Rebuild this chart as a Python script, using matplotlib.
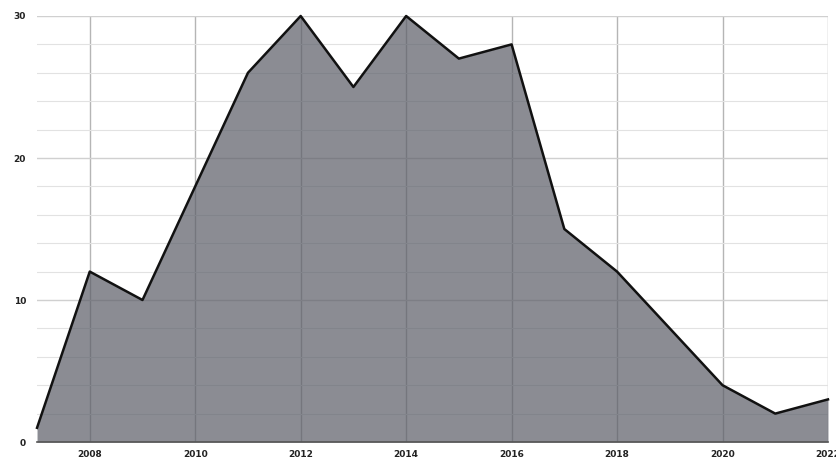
import matplotlib
matplotlib.use("Agg")
import matplotlib.pyplot as plt
from matplotlib.ticker import MultipleLocator

years = [2007, 2008, 2009, 2010, 2011, 2012, 2013, 2014, 2015, 2016, 2017, 2018, 2019, 2020, 2021, 2022]
values = [1, 12, 10, 18, 26, 30, 25, 30, 27, 28, 15, 12, 8, 4, 2, 3]
x_ticks = [2008, 2010, 2012, 2014, 2016, 2018, 2020, 2022]
y_ticks = [0, 10, 20, 30]

fig = plt.figure(figsize=(8.36, 4.61), dpi=100)
ax = fig.add_axes([0.0443, 0.0412, 0.9461, 0.9241])

ax.set_xlim(2007, 2022)
ax.set_ylim(0, 30)

ax.set_xticks(x_ticks)
ax.set_yticks(y_ticks)
ax.yaxis.set_minor_locator(MultipleLocator(2))
ax.grid(which="major", axis="x", color="#b5b5b5", linewidth=1.0, zorder=0)
ax.grid(which="major", axis="y", color="#d0d0d0", linewidth=1.0, zorder=0)
ax.grid(which="minor", axis="y", color="#e2e2e2", linewidth=0.8, zorder=0)
ax.set_axisbelow(True)

ax.fill_between(years, values, 0, color="#5a5c66", alpha=0.7, linewidth=0, zorder=2)
ax.plot(years, values, color="#111111", linewidth=1.8, zorder=3, clip_on=False)

for s in ["top", "right", "left"]:
    ax.spines[s].set_visible(False)
ax.spines["bottom"].set_color("#555555")
ax.spines["bottom"].set_linewidth(1.2)

ax.tick_params(axis="both", which="both", length=0, labelsize=6.5, colors="#222222")
ax.tick_params(axis="x", pad=6)
ax.tick_params(axis="y", pad=8)
for lab in ax.get_xticklabels() + ax.get_yticklabels():
    lab.set_fontweight("bold")

fig.savefig("out.png", dpi=100)
